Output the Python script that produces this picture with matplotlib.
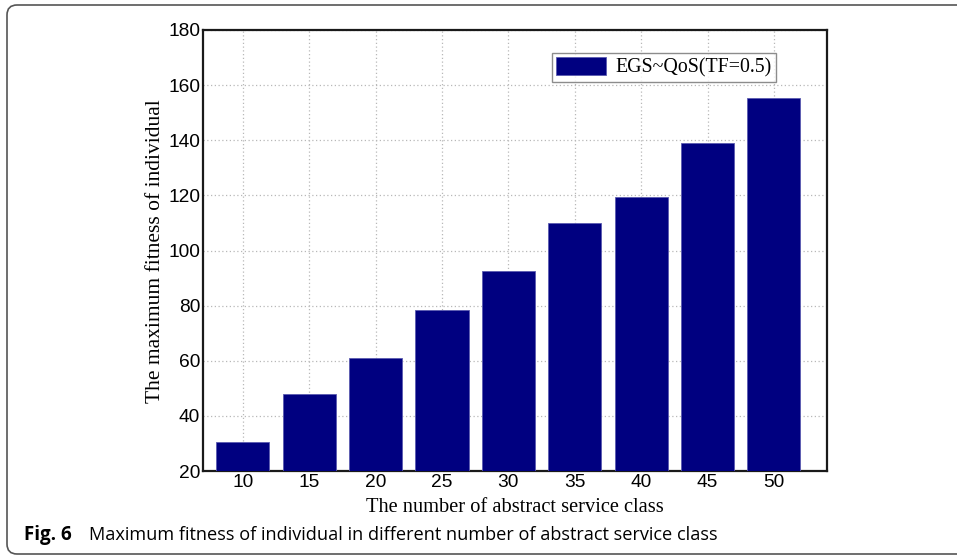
import matplotlib.pyplot as plt
from matplotlib.path import Path
from matplotlib.patches import PathPatch
from matplotlib.transforms import IdentityTransform

# data
classes = [10, 15, 20, 25, 30, 35, 40, 45, 50]
fitness = [30.4, 48.1, 61.1, 78.4, 92.6, 110.0, 119.5, 139.1, 155.3]
y_ticks = [20, 40, 60, 80, 100, 120, 140, 160, 180]
series_name = "EGS~QoS(TF=0.5)"

W, H = 957, 556
fig = plt.figure(figsize=(W / 100, H / 100), dpi=100)
ax = fig.add_axes([203 / W, 1 - 471 / H, 624 / W, 441 / H])

ax.bar(classes, fitness, width=4, color="#000080", edgecolor="#5a5ab0",
       linewidth=0.6, label=series_name, zorder=3)

ax.set_xlim(7, 54)
ax.set_ylim(20, 180)
ax.set_xticks(classes)
ax.set_yticks(y_ticks)
ax.grid(True, linestyle=(0, (1, 2)), color="#b8b8b8", linewidth=0.9, zorder=0)
ax.tick_params(direction="in", length=0, pad=2, labelsize=13.8)
for lab in ax.get_xticklabels() + ax.get_yticklabels():
    lab.set_fontfamily("Liberation Sans")
for side in ax.spines.values():
    side.set_linewidth(1.6)
    side.set_color("#1a1a1a")

leg = ax.legend(loc="upper right", bbox_to_anchor=(776 / W, 1 - 53 / H),
                bbox_transform=fig.transFigure, fancybox=False,
                prop={"family": "Liberation Serif", "size": 14.3},
                handlelength=2.5, handleheight=1.0, borderpad=0.2,
                handletextpad=0.5, borderaxespad=0)
leg.get_frame().set_edgecolor("#707070")
leg.get_frame().set_linewidth(1.0)

fig.text(155 / W, 1 - 251 / H, "The maximum fitness of individual",
         rotation=90, ha="center", va="center",
         family="Liberation Serif", fontsize=15.5)
fig.text(515 / W, 1 - 508 / H, "The number of abstract service class",
         ha="center", va="center", family="Liberation Serif", fontsize=14.7)

fig.text(24 / W, 1 - 535 / H, "Fig. 6", ha="left", va="center",
         family="Open Sans", fontweight="bold", fontsize=13.5)
fig.text(89 / W, 1 - 535 / H,
         "Maximum fitness of individual in different number of abstract service class",
         ha="left", va="center", family="Open Sans", fontsize=13.05)

# page frame: open on the right, rounded corners on the left (pixel coords)
verts = [(W + 5, 551), (17, 551), (7, 551), (7, 541), (7, 12), (7, 2), (17, 2), (W + 5, 2)]
codes = [Path.MOVETO, Path.LINETO, Path.CURVE3, Path.CURVE3,
         Path.LINETO, Path.CURVE3, Path.CURVE3, Path.LINETO]
frame = PathPatch(Path(verts, codes), transform=IdentityTransform(), fill=False,
                  edgecolor="#555555", linewidth=1.2, clip_on=False)
fig.patches.append(frame)

fig.savefig("out.png", dpi=100)
